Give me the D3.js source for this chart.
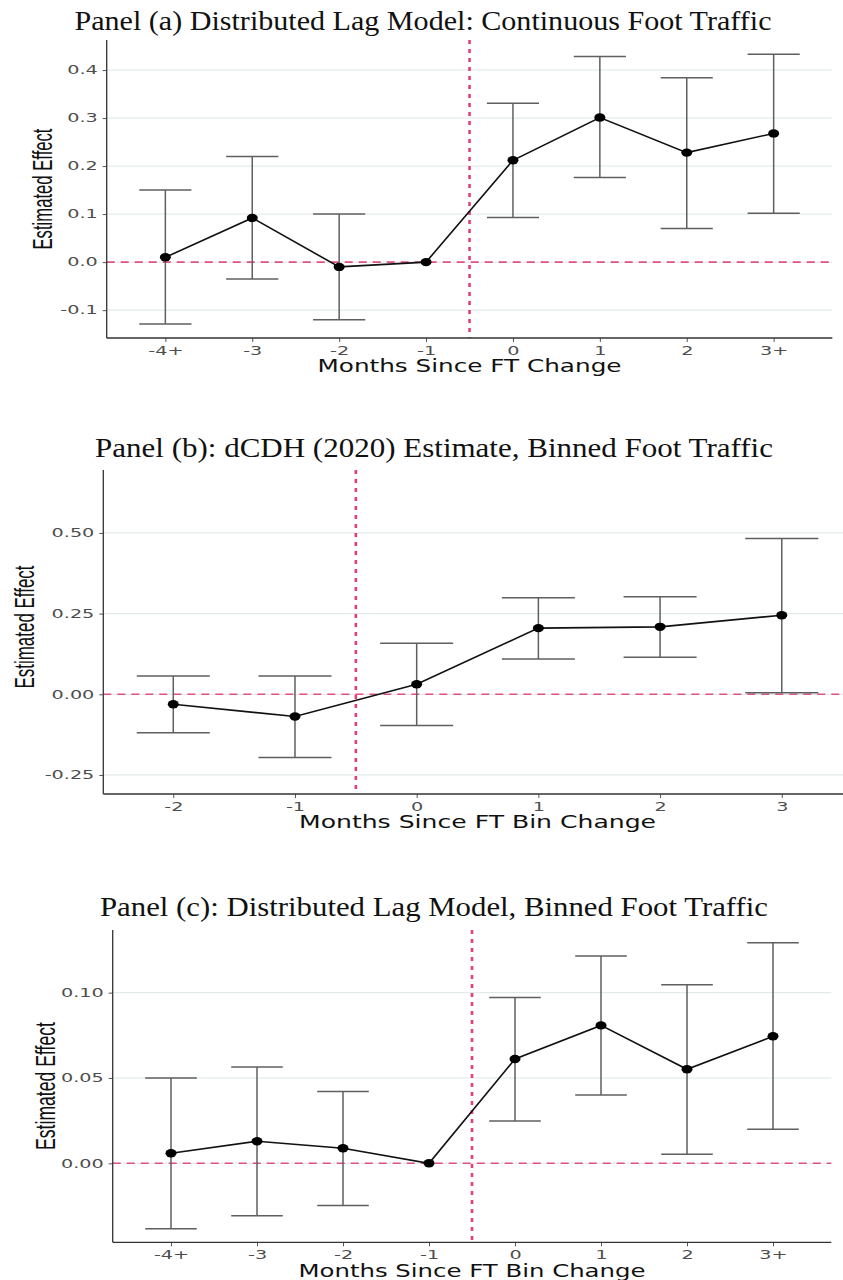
<!DOCTYPE html>
<html>
<head>
<meta charset="utf-8">
<script src="https://cdn.jsdelivr.net/npm/d3@7"></script>
<style>
  body { margin: 0; background: #fff; }
  svg { display: block; }
</style>
</head>
<body>
<div id="canvas"></div>
<script>
// event-study estimates

// panel (a)
var catsA = ['-4+', '-3', '-2', '-1', '0', '1', '2', '3+'];
var estA  = [0.010, 0.092, -0.010, 0.000, 0.212, 0.301, 0.228, 0.268];
var loA   = [-0.129, -0.035, -0.120, null, 0.093, 0.176, 0.070, 0.102];
var hiA   = [0.150, 0.220, 0.100, null, 0.331, 0.428, 0.384, 0.433];
var ticksA = [-0.1, 0, 0.1, 0.2, 0.3, 0.4];

// panel (b)
var catsB = ['-2', '-1', '0', '1', '2', '3'];
var estB  = [-0.031, -0.069, 0.031, 0.205, 0.209, 0.245];
var loB   = [-0.119, -0.196, -0.097, 0.109, 0.115, 0.005];
var hiB   = [0.057, 0.057, 0.158, 0.299, 0.302, 0.483];
var ticksB = [-0.25, 0, 0.25, 0.5];

// panel (c)
var catsC = ['-4+', '-3', '-2', '-1', '0', '1', '2', '3+'];
var estC  = [0.0059, 0.0129, 0.0088, 0.000, 0.0611, 0.0808, 0.0551, 0.0744];
var loC   = [-0.0383, -0.0307, -0.0248, null, 0.0248, 0.0400, 0.0053, 0.0199];
var hiC   = [0.0500, 0.0564, 0.0420, null, 0.0972, 0.1214, 0.1046, 0.1292];
var ticksC = [0, 0.05, 0.10];

var W = 843, H = 1280;
var svg = d3.select('#canvas').append('svg')
    .attr('width', W).attr('height', H);

var pink = '#e0407a';
var stretch = 1.6; // the picture is squeezed wide, text follows

var panels = [
  {title: 'Panel (a) Distributed Lag Model: Continuous Foot Traffic',
   titleX: 423, titleY: 30, titleW: 697,
   cats: catsA, est: estA, lo: loA, hi: hiA, ticks: ticksA, fmt: '.1f',
   left: 106.7, top: 40, bottom: 338, pad: 0.675, step: 86.9,
   yDom: [-0.158, 0.4625],
   xTitle: 'Months Since FT Change', xTitleW: 304,
   yLabX: 43, yLabY: 189, yLabW: 121},
  {title: 'Panel (b): dCDH (2020) Estimate, Binned Foot Traffic',
   titleX: 434, titleY: 457, titleW: 678,
   cats: catsB, est: estB, lo: loB, hi: hiB, ticks: ticksB, fmt: '.2f',
   left: 103.3, top: 470, bottom: 794, pad: 0.575, step: 121.7,
   yDom: [-0.309, 0.695],
   xTitle: 'Months Since FT Bin Change', xTitleW: 357,
   yLabX: 25, yLabY: 627, yLabW: 123},
  {title: 'Panel (c): Distributed Lag Model, Binned Foot Traffic',
   titleX: 434, titleY: 916, titleW: 668,
   cats: catsC, est: estC, lo: loC, hi: hiC, ticks: ticksC, fmt: '.2f',
   left: 112.7, top: 930, bottom: 1242.3, pad: 0.678, step: 86.0,
   yDom: [-0.0463, 0.1367],
   xTitle: 'Months Since FT Bin Change', xTitleW: 347,
   yLabX: 46, yLabY: 1086, yLabW: 128}
];

panels.forEach(function(p){
    var n = p.cats.length;
    var right = p.left + p.step * (n - 1 + 2 * p.pad);

    var x = d3.scalePoint().domain(p.cats)
        .range([p.left, right]).padding(p.pad);
    var y = d3.scaleLinear().domain(p.yDom).range([p.bottom, p.top]);

    var g = svg.append('g').attr('class', 'panel');

    // title
    g.append('text')
        .attr('x', p.titleX).attr('y', p.titleY)
        .attr('text-anchor', 'middle')
        .attr('textLength', p.titleW)
        .attr('lengthAdjust', 'spacingAndGlyphs')
        .style('font-family', "'Liberation Serif', 'DejaVu Serif', serif")
        .style('font-size', '28px')
        .style('fill', '#111')
        .text(p.title);

    // grid
    g.append('g').selectAll('line').data(p.ticks).enter().append('line')
        .attr('x1', p.left).attr('x2', right)
        .attr('y1', function(d){return y(d);}).attr('y2', function(d){return y(d);})
        .style('stroke', '#dde6e6').style('stroke-width', 1);

    // zero line
    g.append('line')
        .attr('x1', p.left).attr('x2', right)
        .attr('y1', y(0)).attr('y2', y(0))
        .style('stroke', pink).style('stroke-width', 1.6)
        .style('stroke-dasharray', '8,6').style('opacity', 0.9);

    // event line between -1 and 0
    var vx = x('-1') + x.step() / 2;
    g.append('line')
        .attr('x1', vx).attr('x2', vx)
        .attr('y1', p.top).attr('y2', p.bottom)
        .style('stroke', pink).style('stroke-width', 2.6)
        .style('stroke-dasharray', '4,5');

    // axes
    var fmt = d3.format(p.fmt);
    var yAxis = d3.axisLeft(y).tickValues(p.ticks).tickSize(4).tickPadding(5)
        .tickFormat(function(d){ return fmt(d).replace('\u2212', '-'); });
    var xAxis = d3.axisBottom(x).tickSize(4).tickPadding(4);

    var ya = g.append('g').attr('transform', 'translate(' + p.left + ',0)').call(yAxis);
    var xa = g.append('g').attr('transform', 'translate(0,' + p.bottom + ')').call(xAxis);

    [ya, xa].forEach(function(a){
        a.select('.domain').remove();
        a.selectAll('.tick line').style('stroke', '#555').style('stroke-width', 1);
        a.selectAll('.tick text')
            .style('font-family', "'DejaVu Sans', sans-serif")
            .style('font-size', '12px')
            .style('fill', '#4d4d4d');
    });
    ya.selectAll('.tick text')
        .attr('x', -9 / stretch)
        .attr('transform', 'scale(' + stretch + ',1)');
    xa.selectAll('.tick text')
        .attr('transform', 'scale(' + stretch + ',1)');

    // axis lines
    g.append('line')
        .attr('x1', p.left).attr('x2', p.left)
        .attr('y1', p.top).attr('y2', p.bottom)
        .style('stroke', '#333').style('stroke-width', 1.3);
    g.append('line')
        .attr('x1', p.left).attr('x2', right)
        .attr('y1', p.bottom).attr('y2', p.bottom)
        .style('stroke', '#333').style('stroke-width', 1.3);

    // axis titles
    g.append('text')
        .attr('x', (p.left + right) / 2).attr('y', p.bottom + 34.3)
        .attr('text-anchor', 'middle')
        .attr('textLength', p.xTitleW)
        .attr('lengthAdjust', 'spacingAndGlyphs')
        .style('font-family', "'DejaVu Sans', sans-serif")
        .style('font-size', '18px')
        .style('fill', '#111')
        .text(p.xTitle);

    g.append('text')
        .attr('transform', 'translate(' + p.yLabX + ',' + p.yLabY + ') scale(1.35,1) rotate(-90)')
        .attr('text-anchor', 'middle')
        .attr('dy', '0.35em')
        .attr('textLength', p.yLabW)
        .attr('lengthAdjust', 'spacingAndGlyphs')
        .style('font-family', "'Liberation Sans', Arial, sans-serif")
        .style('font-size', '20px')
        .style('fill', '#111')
        .text('Estimated Effect');

    // data rows
    var rows = p.cats.map(function(c, i){
        return {cat: c, est: p.est[i], lo: p.lo[i], hi: p.hi[i]};
    });
    var cap = x.step() * 0.3;

    var bars = g.append('g').selectAll('g')
        .data(rows.filter(function(d){ return d.lo !== null; }))
        .enter().append('g')
        .style('stroke', '#5f5f5f').style('stroke-width', 1.5);
    bars.append('line')
        .attr('x1', function(d){return x(d.cat);}).attr('x2', function(d){return x(d.cat);})
        .attr('y1', function(d){return y(d.lo);}).attr('y2', function(d){return y(d.hi);});
    bars.append('line')
        .attr('x1', function(d){return x(d.cat) - cap;}).attr('x2', function(d){return x(d.cat) + cap;})
        .attr('y1', function(d){return y(d.hi);}).attr('y2', function(d){return y(d.hi);});
    bars.append('line')
        .attr('x1', function(d){return x(d.cat) - cap;}).attr('x2', function(d){return x(d.cat) + cap;})
        .attr('y1', function(d){return y(d.lo);}).attr('y2', function(d){return y(d.lo);});

    var line = d3.line()
        .x(function(d){return x(d.cat);})
        .y(function(d){return y(d.est);});
    g.append('path').datum(rows)
        .attr('d', line)
        .style('fill', 'none').style('stroke', '#111').style('stroke-width', 1.6);

    g.append('g').selectAll('ellipse').data(rows).enter().append('ellipse')
        .attr('cx', function(d){return x(d.cat);})
        .attr('cy', function(d){return y(d.est);})
        .attr('rx', 5.5).attr('ry', 4.2)
        .style('fill', '#000');
});
</script>
</body>
</html>
